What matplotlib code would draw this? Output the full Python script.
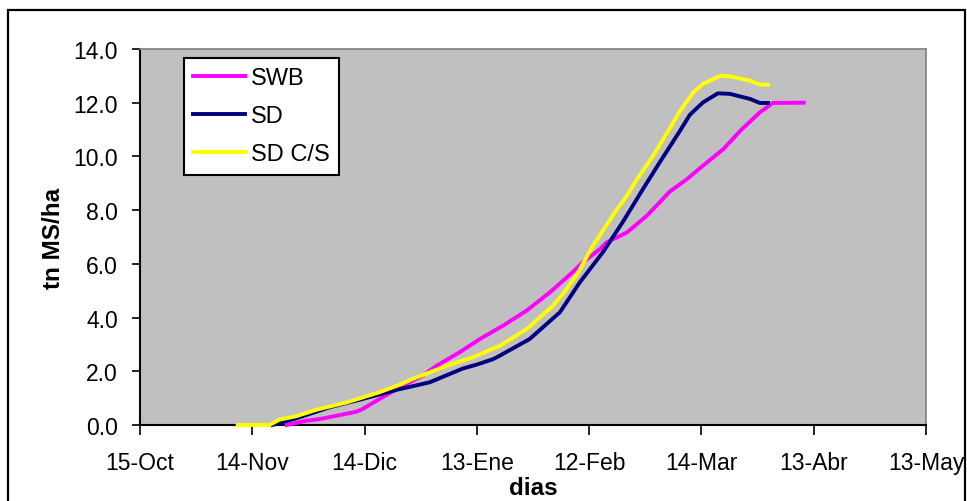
import matplotlib
matplotlib.use("Agg")
import matplotlib.pyplot as plt
from matplotlib.patches import Rectangle

plt.rcParams['font.family'] = ['Liberation Sans', 'DejaVu Sans']

# Days counted from 15-Oct
tick_days = [0, 30, 60, 90, 120, 150, 180, 210]
tick_labels = ["15-Oct", "14-Nov", "14-Dic", "13-Ene", "12-Feb", "14-Mar", "13-Abr", "13-May"]

swb_days = [39.2, 44.5, 48.0, 53.4, 57.9, 59.5, 64.0, 68.6, 75.5, 79.3, 85.4, 90.8, 97.0,
            103.3, 109.5, 115.6, 118.3, 122.9, 124.7, 130.1, 135.4, 141.6, 146.1, 148.8,
            151.5, 155.9, 160.4, 165.6, 169.1, 177.3]
swb_vals = [0.0, 0.16, 0.22, 0.37, 0.50, 0.60, 0.97, 1.34, 1.84, 2.21, 2.71, 3.20, 3.70,
            4.26, 4.94, 5.69, 6.06, 6.55, 6.80, 7.17, 7.79, 8.70, 9.15, 9.47,
            9.78, 10.28, 10.96, 11.64, 11.99, 12.0]

sd_days = [35.4, 41.8, 50.7, 59.5, 68.6, 77.4, 86.2, 90.0, 94.3, 96.1, 104.1, 112.2, 117.5,
           123.7, 129.0, 134.4, 138.9, 144.3, 146.9, 150.4, 154.4, 157.6, 163.0, 165.6, 167.8]
sd_vals = [0.0, 0.25, 0.66, 0.97, 1.31, 1.59, 2.10, 2.25, 2.45, 2.58, 3.20, 4.20, 5.31,
           6.44, 7.56, 8.79, 9.79, 10.96, 11.55, 12.01, 12.35, 12.33, 12.14, 11.99, 11.99]

sdcs_days = [26.1, 34.6, 37.3, 41.8, 47.2, 55.2, 64.0, 69.4, 72.9, 82.0, 88.9, 96.1, 103.3,
             110.3, 113.0, 116.7, 121.0, 126.9, 130.1, 132.8, 137.1, 142.4, 144.3, 147.8,
             150.4, 155.0, 157.6, 163.0, 165.6, 167.8]
sdcs_vals = [0.0, 0.0, 0.20, 0.33, 0.57, 0.84, 1.22, 1.50, 1.72, 2.21, 2.52, 2.95, 3.57,
             4.44, 4.88, 5.60, 6.67, 7.93, 8.54, 9.16, 10.03, 11.25, 11.70, 12.38,
             12.70, 13.00, 12.98, 12.82, 12.67, 12.67]

W, H = 967, 502
fig = plt.figure(figsize=(W / 100, H / 100), dpi=100)
fig.patch.set_facecolor("white")

# outer chart frame
fig.patches.append(Rectangle((8 / W, -0.05), (965 - 8) / W, 1.05 - 10.5 / H,
                             transform=fig.transFigure, fill=False,
                             edgecolor="black", linewidth=1.6))

left, right, top, bottom = 140, 926, 50, 426
ax = fig.add_axes([left / W, 1 - bottom / H, (right - left) / W, (bottom - top) / H])
ax.set_facecolor("#C0C0C0")

lw = 2.8
ax.plot(swb_days, swb_vals, color="#FF00FF", lw=lw, label="SWB", zorder=3, clip_on=False)
ax.plot(sd_days, sd_vals, color="#000080", lw=lw, label="SD", zorder=4, clip_on=False)
ax.plot(sdcs_days, sdcs_vals, color="#FFFF00", lw=lw, label="SD C/S", zorder=5, clip_on=False)

ax.set_xlim(0, 210)
ax.set_ylim(0, 14)
ax.set_xticks(tick_days)
ax.set_xticklabels(tick_labels)
ax.set_yticks([0, 2, 4, 6, 8, 10, 12, 14])
ax.set_yticklabels([f"{v:.1f}" for v in [0, 2, 4, 6, 8, 10, 12, 14]])

ax.tick_params(axis="x", direction="out", length=7, width=1.2, pad=12, labelsize=16.5)
ax.tick_params(axis="y", direction="out", length=6, width=1.2, pad=10, labelsize=16.5)

for s in ("left", "bottom"):
    ax.spines[s].set_color("black")
    ax.spines[s].set_linewidth(1.5)
for s in ("top", "right"):
    ax.spines[s].set_color("#808080")
    ax.spines[s].set_linewidth(1.2)

ax.set_xlabel("dias", fontsize=17.5, fontweight="bold", labelpad=1)
ax.set_ylabel("tn MS/ha", fontsize=17.5, fontweight="bold", labelpad=6)

leg = ax.legend(loc="upper left", bbox_to_anchor=((184 - left) / (right - left), (bottom - 58.5) / (bottom - top)),
                borderaxespad=0, fontsize=17, frameon=True, fancybox=False,
                edgecolor="black", facecolor="white", framealpha=1,
                handlelength=2.2, handletextpad=0.22, labelspacing=0.68, borderpad=0.4)
leg.get_frame().set_linewidth(1.5)

fig.savefig("out.png", dpi=100)
